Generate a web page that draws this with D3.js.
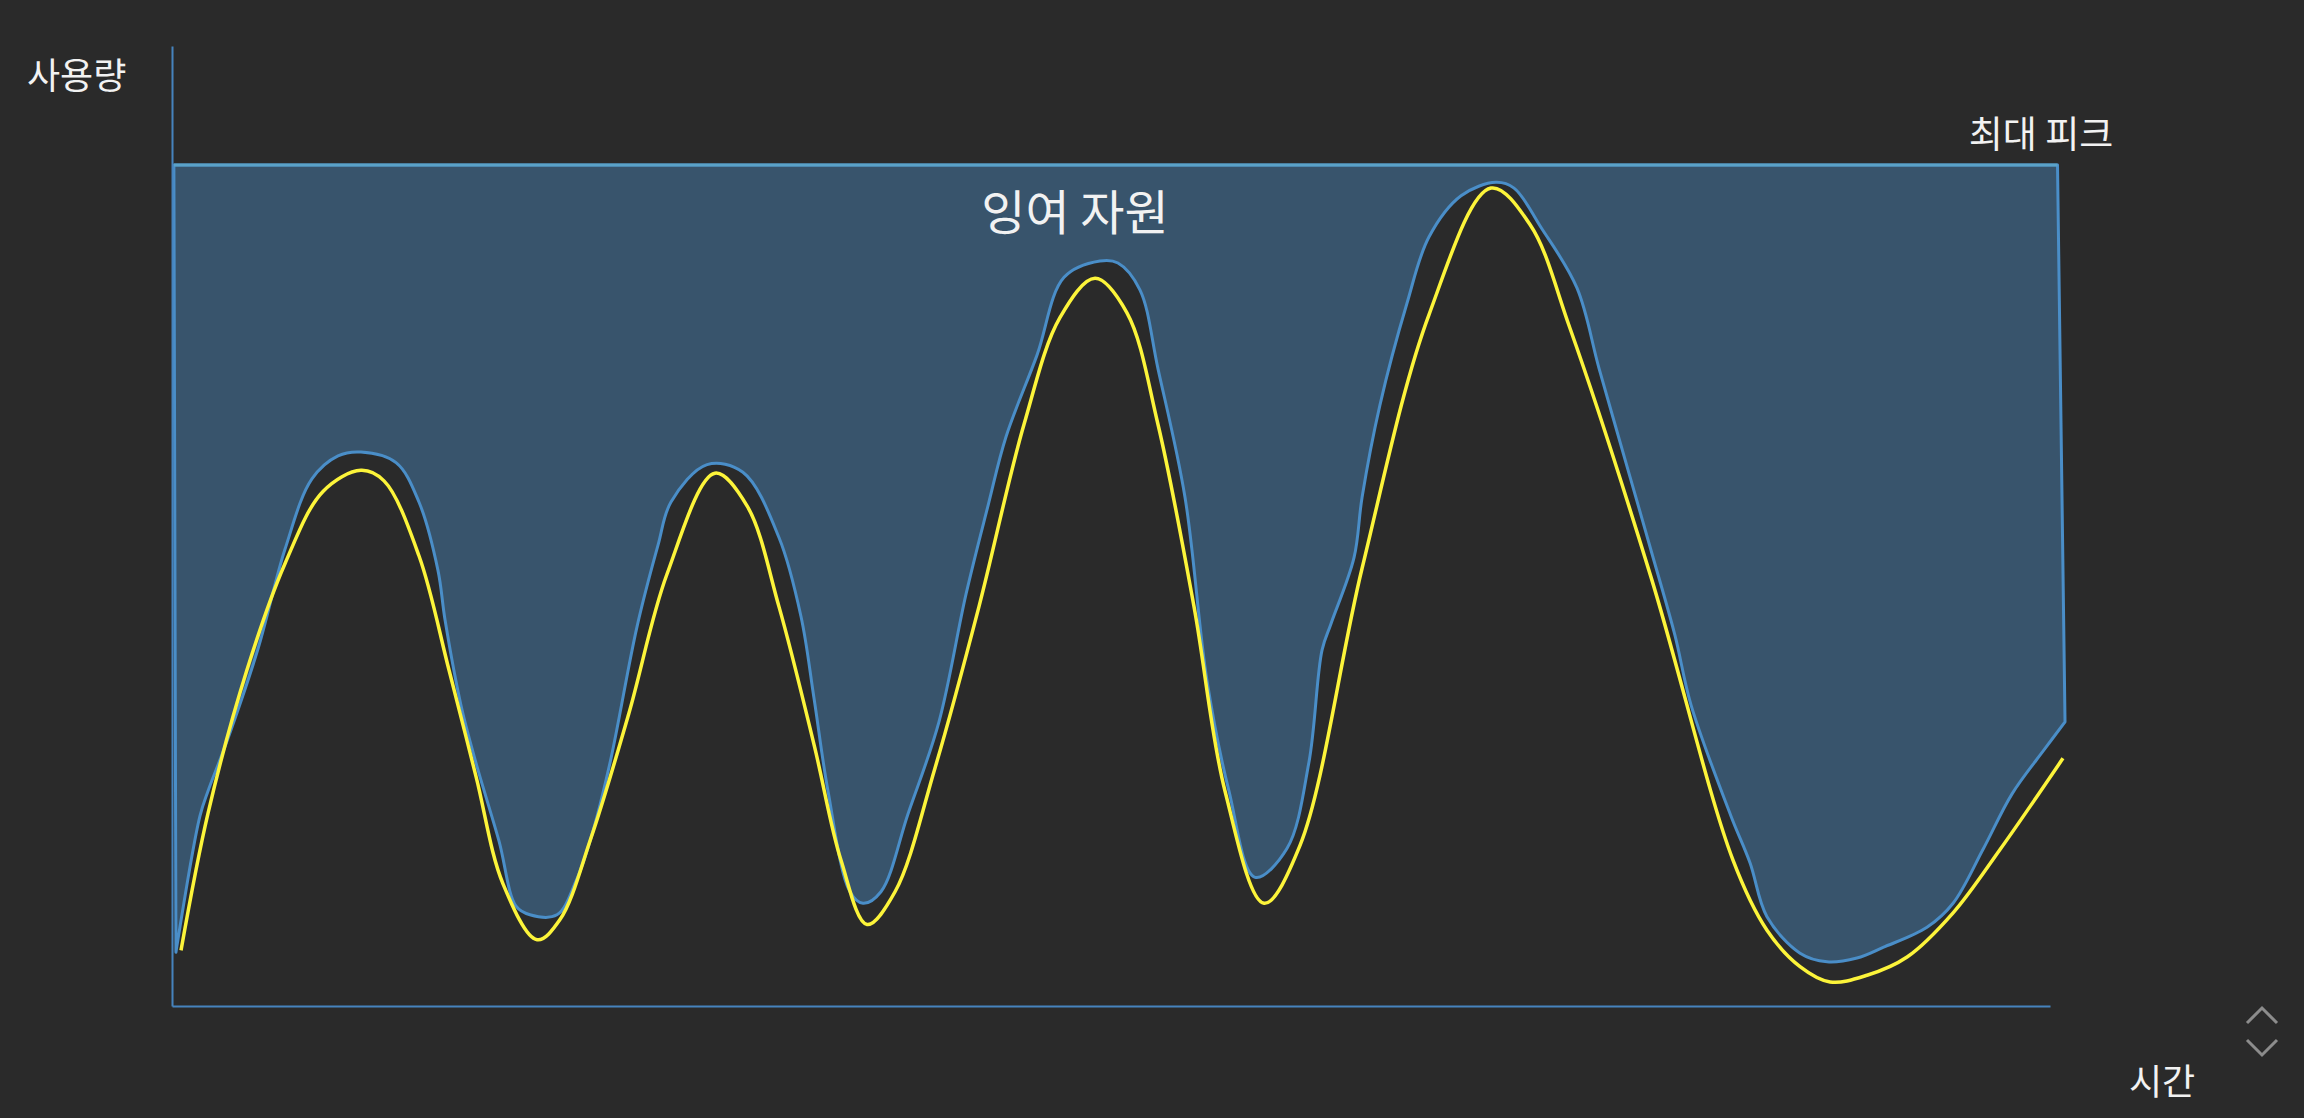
<!DOCTYPE html>
<html>
<head>
<meta charset="utf-8">
<script src="https://cdn.jsdelivr.net/npm/d3@7"></script>
<style>
  html, body { margin: 0; padding: 0; background: #2a2a2a; }
  svg { display: block; }
  text { font-family: "Noto Sans CJK KR", "Noto Sans", sans-serif; fill: #f2f2f2; }
</style>
</head>
<body>
<svg id="chart" width="2304" height="1118"></svg>
<script>
// ---- data ----
const axisLabels = { y: "사용량", x: "시간" };
const peakLabel = "최대 피크";
const surplusLabel = "잉여 자원";
const maxPeak = 87.6;            // 최대 피크 level
const peakSpan = [0.1, 100.4];   // time span of the provisioned peak
// demand curve (yellow): [time, usage]
const demand = [
  [0.48,5.8],[1.92,20.1],[3.99,35.0],[6.02,46.1],[8.04,53.6],[10.06,55.8],[11.29,54.7],
  [13.15,46.9],[14.75,35.0],[16.19,23.9],[17.63,12.7],[19.44,6.9],[20.66,9.0],[22.31,17.5],
  [24.33,30.5],[26.36,45.0],[28.91,55.5],[30.62,52.1],[32.32,41.6],[34.19,27.2],[35.62,15.2],
  [37.01,8.5],[38.50,11.9],[40.63,24.8],[42.97,41.6],[45.37,60.6],[47.28,71.7],[49.15,75.8],
  [50.85,72.2],[52.50,60.6],[54.42,41.6],[56.07,22.4],[58.15,10.7],[60.06,16.7],[63.37,45.6],
  [66.93,72.0],[70.23,85.2],[72.31,81.4],[74.44,70.6],[78.75,44.7],[83.12,15.2],
  [84.93,7.9],[86.69,4.1],[88.29,2.5],[90.26,3.2],[92.39,5.1],[94.84,9.7],[97.34,16.3],[100.69,25.8]
];
// actual usage boundary (blue): [time, usage]
const usage = [
  [0.21,5.6],[1.49,19.8],[1.92,22.4],[2.93,27.6],[4.58,37.2],[6.02,47.6],[7.45,54.9],[8.84,57.3],
  [10.06,57.7],[11.93,56.6],[13.15,52.5],[14.16,45.4],[14.54,40.2],[15.39,31.3],[16.19,25.3],
  [17.41,17.2],[18.32,10.4],[19.06,9.5],[20.50,9.5],[21.51,13.0],[22.31,17.5],[23.32,25.3],
  [24.76,39.5],[25.88,48.0],[26.57,52.5],[28.49,56.4],[30.40,55.6],[32.32,48.8],[33.49,40.6],
  [34.19,32.0],[34.93,22.4],[36.10,11.9],[36.79,10.7],[37.75,11.9],[39.19,20.0],[40.84,29.6],
  [42.28,42.9],[43.45,52.1],[44.41,59.3],[46.06,67.8],[47.50,75.9],[49.41,77.6],[50.37,77.4],
  [51.54,74.6],[52.50,66.4],[53.94,53.0],[55.11,33.9],[56.28,22.4],[57.67,13.4],[59.37,16.4],
  [60.54,25.4],[61.24,37.1],[61.71,39.8],[62.94,46.7],[63.37,53.0],[64.32,62.6],[65.76,73.2],
  [66.93,80.1],[68.64,84.4],[70.50,85.8],[71.46,85.2],[72.90,81.1],[74.81,74.8],[75.99,66.4],
  [77.64,55.1],[78.75,47.5],[80.03,38.6],[80.88,31.4],[83.01,19.8],[84.03,14.9],[84.93,9.3],
  [86.69,5.5],[88.13,4.6],[89.72,5.0],[91.11,6.1],[93.45,8.2],[94.84,10.7],[96.43,16.3],
  [97.98,22.1],[99.73,26.8],[100.80,29.6]
];

// ---- layout ----
const svg = d3.select("#chart");
const x = d3.scaleLinear().domain([0, 100]).range([172, 2050]);
const y = d3.scaleLinear().domain([0, 100]).range([1006, 46]);

const axisColor = "#4683bd";
const blue = "#4a8ec8";
const peakColor = "#5aa2c8";
const fill = "#38546c";
const yellow = "#fcf43a";

// surplus area: between peak line and usage curve
const usageLine = d3.line().x(d => x(d[0])).y(d => y(d[1])).curve(d3.curveCatmullRom.alpha(0.5));
const rev = usage.slice().reverse();
const areaPath = "M" + x(peakSpan[0]) + "," + y(maxPeak) +
  "L" + x(peakSpan[1]) + "," + y(maxPeak) +
  usageLine(rev).replace(/^M/, "L") + "Z";

svg.append("path")
  .attr("d", areaPath)
  .attr("fill", fill)
  .attr("stroke", blue)
  .attr("stroke-width", 3)
  .attr("stroke-linejoin", "round");

// peak line highlight
svg.append("line")
  .attr("x1", x(peakSpan[0])).attr("x2", x(peakSpan[1]))
  .attr("y1", y(maxPeak)).attr("y2", y(maxPeak))
  .attr("stroke", peakColor).attr("stroke-width", 3);

// axes (domain lines only)
svg.append("g").attr("transform", `translate(${x(0)},0)`)
  .call(d3.axisLeft(y).ticks(0).tickSize(0).tickSizeOuter(0));
svg.append("g").attr("transform", `translate(0,${y(0)})`)
  .call(d3.axisBottom(x).ticks(0).tickSize(0).tickSizeOuter(0));
svg.selectAll(".domain").attr("stroke", axisColor).attr("stroke-width", 2);

// demand curve
const demandLine = d3.line().x(d => x(d[0])).y(d => y(d[1])).curve(d3.curveCatmullRom.alpha(0.5));
svg.append("path")
  .attr("d", demandLine(demand))
  .attr("fill", "none")
  .attr("stroke", yellow)
  .attr("stroke-width", 3.5);

// labels
svg.append("text").attr("x", 27).attr("y", 89)
  .attr("font-size", 36).text(axisLabels.y);
svg.append("text").attr("x", 2162).attr("y", 1095)
  .attr("font-size", 36).attr("text-anchor", "middle").text(axisLabels.x);
svg.append("text").attr("x", 2041).attr("y", y(maxPeak) - 17)
  .attr("font-size", 37).attr("text-anchor", "middle").text(peakLabel);
svg.append("text").attr("x", 1075).attr("y", 230)
  .attr("font-size", 48).attr("text-anchor", "middle").text(surplusLabel);

// scroll chevrons (bottom-right)
const chev = svg.append("g").attr("fill", "none").attr("stroke", "#8c8c8c")
  .attr("stroke-width", 3).attr("stroke-linecap", "butt");
chev.append("path").attr("d", "M2247,1023L2262,1008L2277,1023");
chev.append("path").attr("d", "M2247,1040L2262,1055L2277,1040");
</script>
</body>
</html>
